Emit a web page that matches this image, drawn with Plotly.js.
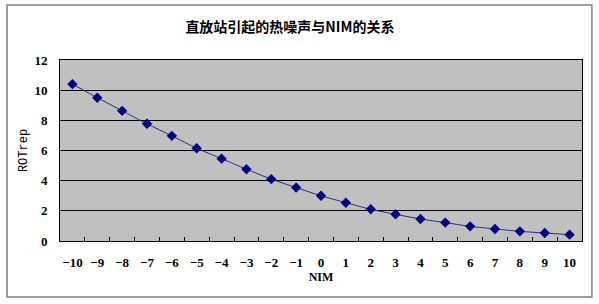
<!DOCTYPE html>
<html>
<head>
<meta charset="utf-8">
<script src="https://cdn.plot.ly/plotly-3.0.1.min.js"></script>
<style>html,body{margin:0;padding:0;background:#fff;}#chart{width:599px;height:304px;}</style>
</head>
<body>
<div id="chart"></div>
<script>
var nimLabels = ["-10","-9","-8","-7","-6","-5","-4","-3","-2","-1","0","1","2","3","4","5","6","7","8","9","10"];
var rotrepValues = [10.4, 9.5, 8.63, 7.77, 6.97, 6.15, 5.46, 4.76, 4.1, 3.54, 3.0, 2.54, 2.1, 1.77, 1.46, 1.22, 0.97, 0.8, 0.64, 0.53, 0.42];
var yTicks = [0, 2, 4, 6, 8, 10, 12];
var tickText = nimLabels.map(function(s){ return "<b>" + s.replace("-", "\u2212") + "</b>"; });
var yTickText = yTicks.map(function(v){ return "<b>" + v + "</b>"; });
var chartTitle = "直放站引起的热噪声与NIM的关系";

var serif = "'Liberation Serif', 'Times New Roman', serif";

var trace = {
  x: nimLabels,
  y: rotrepValues,
  type: "scatter",
  mode: "lines+markers",
  line: {color: "#2a2a80", width: 1, shape: "spline", smoothing: 0.6},
  marker: {symbol: "diamond", size: 8, color: "#000080"},
  hoverinfo: "x+y"
};

var layout = {
  width: 599, height: 304,
  margin: {l: 60, r: 17, t: 60, b: 63},
  paper_bgcolor: "#ffffff",
  plot_bgcolor: "#c0c0c0",
  showlegend: false,
  font: {family: serif},
  title: {
    text: "<b>" + chartTitle + "</b>",
    font: {family: "'Noto Sans CJK SC', sans-serif", size: 14, color: "#000"},
    x: 0.484, xanchor: "center", y: 0.912, yanchor: "middle"
  },
  xaxis: {
    type: "category",
    range: [-0.5, nimLabels.length - 0.5],
    tickvals: nimLabels,
    ticktext: tickText,
    tickangle: 0,
    tickson: "boundaries",
    ticks: "inside",
    ticklen: 4,
    tickcolor: "#000",
    showline: true, linecolor: "#000", linewidth: 1, mirror: true,
    showgrid: false,
    zeroline: false,
    ticklabelstandoff: 9,
    tickfont: {family: serif, size: 13, color: "#000"},
    title: {text: "<b>NIM</b>", font: {family: serif, size: 12, color: "#000"}, standoff: 0}
  },
  yaxis: {
    range: [0, 12],
    tickvals: yTicks,
    ticktext: yTickText,
    showline: true, linecolor: "#000", linewidth: 1, mirror: true,
    showgrid: true, gridcolor: "#000", gridwidth: 1,
    zeroline: false,
    ticks: "",
    ticklabelstandoff: 9,
    tickfont: {family: serif, size: 13, color: "#000"},
    title: {text: "ROTrep", font: {family: "'Liberation Mono', 'Courier New', monospace", size: 12, color: "#000"}, standoff: 4}
  },
  shapes: [{
    type: "rect", xref: "paper", yref: "paper",
    x0: -0.1015, x1: 1.019, y0: -0.309, y1: 1.304,
    line: {color: "#808080", width: 1.5},
    fillcolor: "rgba(0,0,0,0)",
    layer: "below"
  }]
};

Plotly.newPlot("chart", [trace], layout, {displayModeBar: false, staticPlot: true});
</script>
</body>
</html>
